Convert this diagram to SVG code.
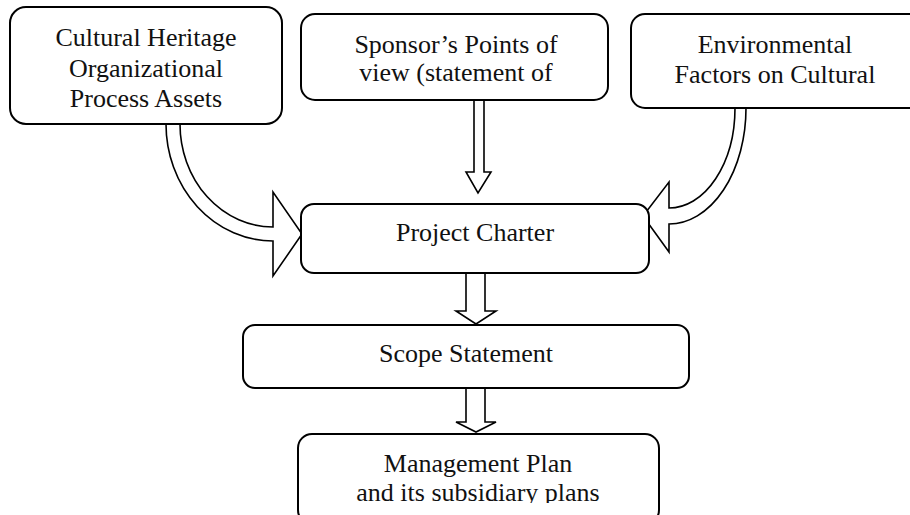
<svg xmlns="http://www.w3.org/2000/svg" width="910" height="515" viewBox="0 0 910 515">
<style>
.box{fill:#fff;stroke:#000;stroke-width:2}
.arr{fill:#fff;stroke:#000;stroke-width:1.6;stroke-linejoin:miter}
text{font-family:"Liberation Serif","Times New Roman",serif;font-size:26px;fill:#111;text-anchor:middle}
</style>
<defs>
<clipPath id="mclip"><rect x="0" y="0" width="910" height="503"/></clipPath>
</defs>
<rect width="910" height="515" fill="#fff"/>
<g id="connectors">
<path class="arr" d="M166,124 A107,117 0 0 0 273,241 L273,276 L302,234 L273,192 L273,227 A93,103 0 0 1 180,124 Z"/>
<path class="arr" d="M474,100 L474,172 L466,172 L478,193 L491,172 L484,172 L484,100 Z"/>
<path class="arr" d="M746,108 A77,116 0 0 1 669,224 L669,252 L643,216 L669,182 L669,208 A66,100 0 0 0 735,108 Z"/>
<path class="arr" d="M466,273 L466,311 L456,311 L476,324 L496,311 L485,311 L485,273 Z"/>
<path class="arr" d="M466,388 L466,422 L456,422 L476,432 L496,422 L485,422 L485,388 Z"/>
</g>
<g id="n-heritage">
<rect class="box" x="10" y="7" width="272" height="117" rx="16"/>
<text x="146" y="46">Cultural Heritage</text>
<text x="146" y="77">Organizational</text>
<text x="146" y="107">Process Assets</text>
</g>
<g id="n-sponsor">
<rect class="box" x="301" y="14" width="307" height="86" rx="14"/>
<text x="456" y="53">Sponsor’s Points of</text>
<text x="456" y="81">view (statement of</text>
</g>
<g id="n-env">
<rect class="box" x="631" y="14" width="300" height="94" rx="14"/>
<text x="775" y="53">Environmental</text>
<text x="775" y="83">Factors on Cultural</text>
</g>
<g id="n-charter">
<rect class="box" x="301" y="204" width="348" height="69" rx="13"/>
<text x="475" y="241">Project Charter</text>
</g>
<g id="n-scope">
<rect class="box" x="243" y="325" width="446" height="63" rx="12"/>
<text x="466" y="362">Scope Statement</text>
</g>
<g id="n-mgmt">
<rect class="box" x="298" y="434" width="361" height="90" rx="14"/>
<g clip-path="url(#mclip)">
<text x="478" y="472">Management Plan</text>
<text x="478" y="501">and its subsidiary plans</text>
</g>
</g>
</svg>
